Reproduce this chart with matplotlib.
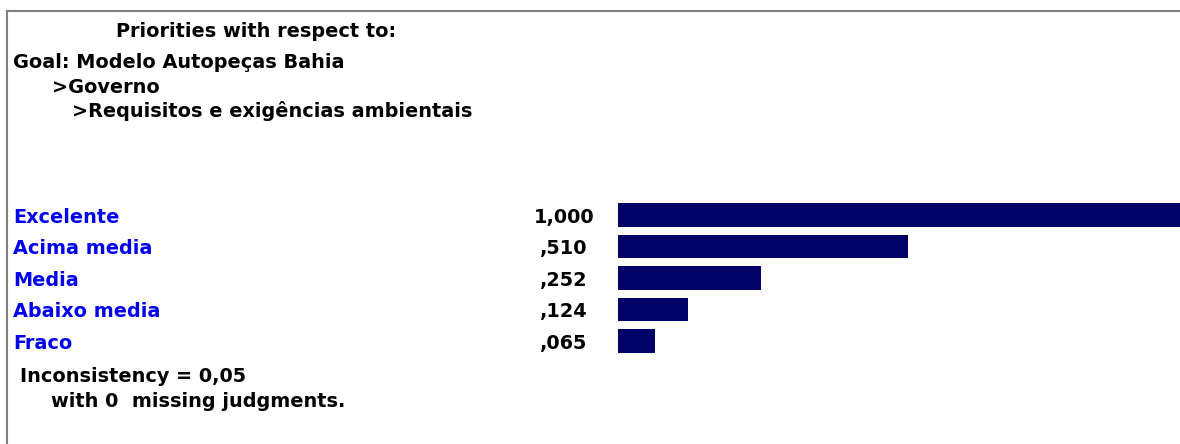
import matplotlib
matplotlib.use('Agg')
import matplotlib.pyplot as plt
import matplotlib.transforms as mtransforms
from matplotlib.lines import Line2D

# data
categories = ['Excelente', 'Acima media', 'Media', 'Abaixo media', 'Fraco']
priorities = [1.000, 0.510, 0.252, 0.124, 0.065]
header = ['Priorities with respect to:',
          'Goal: Modelo Autopeças Bahia',
          '>Governo',
          '>Requisitos e exigências ambientais']
inconsistency = 0.05
missing = 0

W, H = 1180, 444
BAR_COLOR = '#000066'
LABEL_COLOR = '#0000ee'
FS = 13.85

plt.rcParams['font.family'] = ['DejaVu Sans']


def fmt(v):
    s = '{:.3f}'.format(v).replace('.', ',')
    if s.startswith('0,'):
        s = s[1:]
    return s


def px(x, y):
    # pixel coords from top-left -> figure fraction
    return x / W, 1 - y / H


fig = plt.figure(figsize=(W / 100, H / 100), dpi=100)

# frame lines (top and left)
fig.add_artist(Line2D([7 / W, 1], [1 - 11 / H] * 2, color='#808080', lw=1.5))
fig.add_artist(Line2D([7 / W] * 2, [0, 1 - 11 / H], color='#808080', lw=1.5))

# header text
fig.text(*px(256, 37), header[0], ha='center', va='baseline', fontsize=FS, fontweight='bold')
fig.text(*px(13, 68), header[1], ha='left', va='baseline', fontsize=FS, fontweight='bold')
fig.text(*px(52, 93), header[2], ha='left', va='baseline', fontsize=FS, fontweight='bold')
fig.text(*px(72, 117), header[3], ha='left', va='baseline', fontsize=FS, fontweight='bold')

# bar axes
x0 = 618
unit = 568.0
ax = fig.add_axes([x0 / W, 1 - 356.75 / H, (W - x0) / W, 157.5 / H])
ypos = list(range(len(categories)))
ax.barh(ypos, priorities, height=0.76, color=BAR_COLOR)
ax.set_xlim(0, (W - x0) / unit)
ax.set_ylim(len(categories) - 0.5, -0.5)
ax.axis('off')

trans = mtransforms.blended_transform_factory(fig.transFigure, ax.transData)
trans = mtransforms.offset_copy(trans, fig=fig, y=-7.8, units='dots')
for i, (c, v) in enumerate(zip(categories, priorities)):
    ax.text(13 / W, i, c, transform=trans, ha='left', va='baseline',
            fontsize=FS, fontweight='bold', color=LABEL_COLOR)
    ax.text(564 / W, i, fmt(v), transform=trans, ha='center', va='baseline',
            fontsize=FS, fontweight='bold', color='black')

fig.text(*px(20, 382), 'Inconsistency = ' + '{:.2f}'.format(inconsistency).replace('.', ','),
         ha='left', va='baseline', fontsize=FS, fontweight='bold')
fig.text(*px(51, 407), 'with {}  missing judgments.'.format(missing),
         ha='left', va='baseline', fontsize=FS, fontweight='bold')

fig.savefig('out.png', dpi=100)
